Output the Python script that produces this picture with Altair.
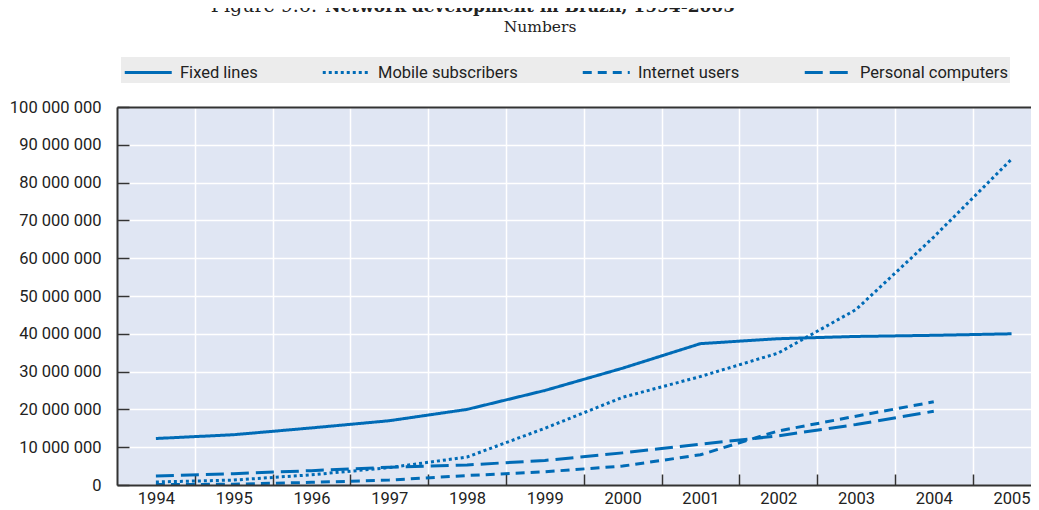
import altair as alt
import pandas as pd

# ---------------- data ----------------
years = list(range(1994, 2006))
series_names = ["Fixed lines", "Mobile subscribers", "Internet users", "Personal computers"]
fixed_lines = [12.3, 13.3, 15.1, 17.0, 20.0, 25.0, 30.9, 37.4, 38.7, 39.3, 39.6, 40.0]
mobile_subscribers = [0.8, 1.3, 2.7, 4.6, 7.4, 15.0, 23.2, 28.7, 34.9, 46.4, 65.6, 86.2]
internet_users = [0.1, 0.2, 0.7, 1.3, 2.5, 3.5, 5.0, 8.0, 14.3, 18.2, 22.0, None]
personal_computers = [2.4, 3.0, 3.8, 4.7, 5.3, 6.5, 8.5, 10.8, 13.0, 16.0, 19.5, None]
y_tick_values = [0, 10e6, 20e6, 30e6, 40e6, 50e6, 60e6, 70e6, 80e6, 90e6, 100e6]
title_part1 = "Figure 9.6."
title_part2 = "Network development in Brazil, 1994-2005"
subtitle = "Numbers"

# ---------------- build table ----------------
rows = []
for name, vals in zip(series_names,
                      [fixed_lines, mobile_subscribers, internet_users, personal_computers]):
    for yr, v in zip(years, vals):
        if v is not None:
            rows.append({"year": yr, "series": name, "value": v * 1e6})
df = pd.DataFrame(rows)

boundaries = [y + 0.5 for y in years[:-1]]

BLUE = "#006bb6"
FONT = "Roboto"
SERIF = "DejaVu Serif"
FS = 16.5
W, H = 914, 378

xscale = alt.Scale(domain=[1993.5, 2005.25], nice=False, zero=False)
yscale = alt.Scale(domain=[0, 100e6], nice=False)

dash_scale = alt.Scale(domain=series_names,
                       range=[[1, 0], [3, 3], [9, 6], [18, 7]])

lines = alt.Chart(df).mark_line(color=BLUE, strokeWidth=3, strokeCap="butt",
                                strokeJoin="round").encode(
    x=alt.X("year:Q", scale=xscale, title=None,
            axis=alt.Axis(orient="bottom", values=years, format="d", ticks=False,
                          grid=False, domain=True, domainColor="#333", domainWidth=2,
                          labelFont=FONT, labelFontSize=FS, labelColor="#222",
                          labelPadding=5, labelFlush=False, labelOverlap=False, zindex=1)),
    y=alt.Y("value:Q", scale=yscale, title=None,
            axis=alt.Axis(orient="left", values=y_tick_values, ticks=False, grid=False,
                          domain=True, domainColor="#333", domainWidth=2,
                          labelFont=FONT, labelFontSize=FS, labelColor="#222",
                          labelPadding=16, labelOverlap=False, labelFlush=False,
                          labelExpr="replace(format(datum.value, ','), regexp(',', 'g'), ' ')",
                          zindex=1)),
    strokeDash=alt.StrokeDash(
        "series:N", scale=dash_scale, sort=series_names,
        legend=alt.Legend(title=None, orient="none", legendX=4, legendY=-50,
                          direction="horizontal", symbolType="M-1,0H3", symbolSize=552,
                          symbolStrokeWidth=3, symbolStrokeColor=BLUE,
                          symbolFillColor="transparent",
                          labelFont=FONT, labelFontSize=FS, labelColor="#222",
                          labelOffset=30, labelLimit=400, columnPadding=58,
                          fillColor="#ececec", padding=2)),
    order="year:Q",
)

tick_layer = alt.Chart(df).mark_point(opacity=0).encode(
    x=alt.X("year:Q", scale=xscale, title=None,
            axis=alt.Axis(orient="bottom", values=boundaries, offset=-11, tickSize=11,
                          ticks=True, tickColor="#333", tickWidth=1.5, labels=False,
                          domain=False, grid=True, gridColor="white", gridWidth=1.5,
                          zindex=0)),
    y=alt.Y("value:Q", scale=yscale, title=None,
            axis=alt.Axis(orient="left", values=y_tick_values, offset=-12, tickSize=12,
                          ticks=True, tickColor="#333", tickWidth=1.5, labels=False,
                          domain=False, grid=True, gridColor="white", gridWidth=1.5,
                          zindex=0)),
)

top_border = alt.Chart(df).mark_point(opacity=0).encode(
    x=alt.X("year:Q", scale=xscale, title=None,
            axis=alt.Axis(orient="top", labels=False, ticks=False, grid=False,
                          domain=True, domainColor="#333", domainWidth=2, zindex=1)),
    y=alt.Y("value:Q", scale=yscale, axis=None),
)

sub = alt.Chart(pd.DataFrame({"t": [subtitle]})).mark_text(
    font=SERIF, fontSize=15.5, color="#222", align="center", baseline="middle"
).encode(text="t:N", x=alt.value(423), y=alt.value(-80))

t1 = alt.Chart(pd.DataFrame({"t": [title_part1]})).mark_text(
    font=SERIF, fontSize=19, color="#222", align="right", baseline="alphabetic"
).encode(text="t:N", x=alt.value(200), y=alt.value(-95))

t2 = alt.Chart(pd.DataFrame({"t": [title_part2]})).mark_text(
    font=SERIF, fontSize=17, fontWeight="bold", color="#222", align="left",
    baseline="alphabetic"
).encode(text="t:N", x=alt.value(208), y=alt.value(-95))

chart = alt.layer(tick_layer, top_border, lines, sub, t1, t2).resolve_axis(
    x="independent", y="independent"
).properties(
    width=W, height=H,
    autosize=alt.AutoSizeParams(type="none"),
    padding={"left": 109, "top": 99, "right": 0, "bottom": 25},
).configure_view(fill="#e0e6f3", stroke=None)

chart.save("out.html", embed_options={"renderer": "svg", "actions": False})
